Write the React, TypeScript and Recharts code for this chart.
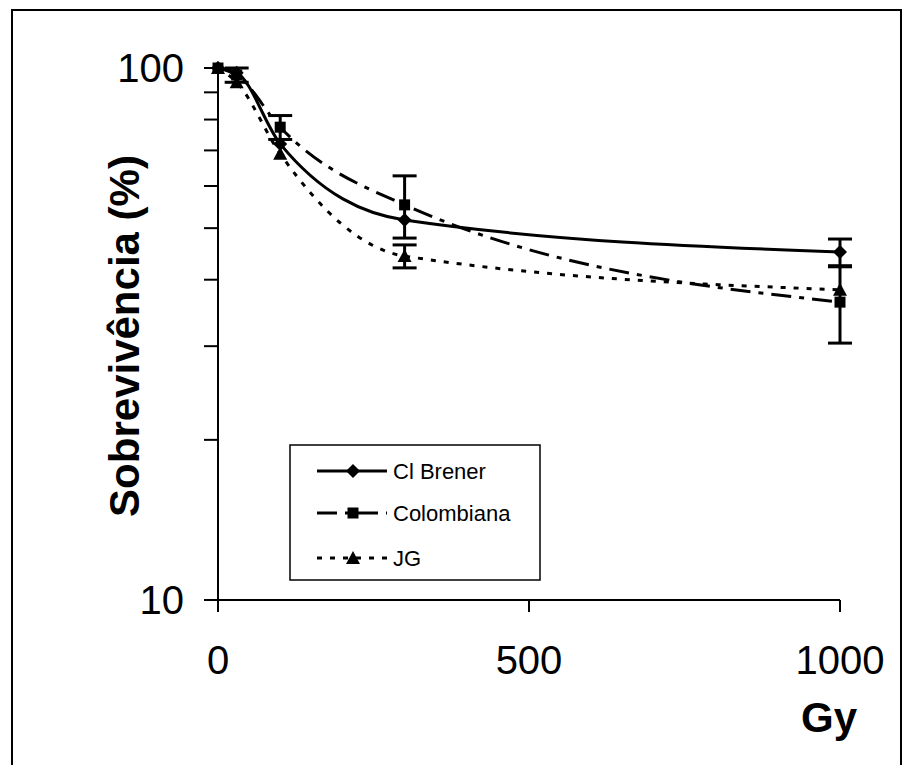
import React from 'react';
import { LineChart, Line, XAxis, YAxis, ErrorBar, Customized } from 'recharts';

const doses = [0, 30, 100, 300, 1000];
const clBrener = [100, 98, 72, 51.8, 45.1];
const clBrenerErr: (number[] | null)[] = [null, null, null, null, [2.6, 2.6]];
const colombiana = [100, 97, 77.4, 55.3, 36.3];
const colombianaErr: (number[] | null)[] = [null, [3, 3], [4, 4], [7.4, 7.4], [5.9, 6]];
const jg = [100, 94, 69, 44.3, 38.3];
const jgErr: (number[] | null)[] = [null, null, null, [2.2, 2.2], null];

const xTicks = [0, 500, 1000];
const yTicks = [10, 20, 30, 40, 50, 60, 70, 80, 90, 100];
const yLabeled = [10, 100];
const seriesNames = ['Cl Brener', 'Colombiana', 'JG'];

const data = doses.map((d, i) => ({
  x: d,
  cb: clBrener[i],
  cbErr: clBrenerErr[i],
  co: colombiana[i],
  coErr: colombianaErr[i],
  jg: jg[i],
  jgErr: jgErr[i],
}));

const FONT = 'Liberation Sans, Arial, Helvetica, sans-serif';

const markerPath = (shape: string, cx: number, cy: number) => {
  if (shape === 'diamond') return `M${cx},${cy - 7}L${cx + 7},${cy}L${cx},${cy + 7}L${cx - 7},${cy}Z`;
  if (shape === 'square') return `M${cx - 5.5},${cy - 5.5}h11v11h-11Z`;
  return `M${cx},${cy - 7}L${cx + 7},${cy + 6}L${cx - 7},${cy + 6}Z`;
};

const makeDot = (shape: string) => (props: any) => {
  const { cx, cy, index } = props;
  if (cx == null || cy == null) return <g key={`n-${shape}-${index}`} />;
  return <path key={`${shape}-${index}`} d={markerPath(shape, cx, cy)} fill="#000" stroke="none" />;
};

const series = [
  { key: 'cb', err: 'cbErr', name: seriesNames[0], dash: undefined as string | undefined, shape: 'diamond' },
  { key: 'co', err: 'coErr', name: seriesNames[1], dash: '20 8 5 8', shape: 'square' },
  { key: 'jg', err: 'jgErr', name: seriesNames[2], dash: '5 8', shape: 'triangle' },
];

const Overlay = () => {
  const rows = [463, 505, 550];
  return (
    <g>
      <rect x={4} y={2} width={889} height={820} fill="none" stroke="#000" strokeWidth={2} />
      <rect x={282} y={437} width={250} height={135} fill="#fff" stroke="#000" strokeWidth={1.5} />
      {series.map((s, i) => (
        <g key={s.key}>
          <line x1={309} x2={379} y1={rows[i]} y2={rows[i]} stroke="#000" strokeWidth={3} strokeDasharray={s.dash} />
          <path d={markerPath(s.shape, 345, rows[i])} fill="#000" />
          <text x={385} y={rows[i]} dominantBaseline="central" fontFamily={FONT} fontSize={22} fill="#000">{s.name}</text>
        </g>
      ))}
      <text x={849} y={724} textAnchor="end" fontFamily={FONT} fontWeight="bold" fontSize={42} fill="#000">Gy</text>
      <text x={131} y={328} textAnchor="middle" transform="rotate(-90, 131, 328)" fontFamily={FONT} fontWeight="bold" fontSize={42} fill="#000">Sobrevivência (%)</text>
    </g>
  );
};

export default function App() {
  return (
    <div style={{ width: 902, height: 757 }}>
      <LineChart width={902} height={757} data={data} margin={{ top: 60, right: 70, bottom: 105, left: 100 }}>
        <XAxis
          dataKey="x"
          type="number"
          domain={[0, 1000]}
          ticks={xTicks}
          height={60}
          tickSize={12}
          tickMargin={34}
          axisLine={{ stroke: '#000', strokeWidth: 2 }}
          tickLine={{ stroke: '#000', strokeWidth: 2 }}
          tick={{ fill: '#000', fontSize: 40, fontFamily: FONT }}
        />
        <YAxis
          type="number"
          scale="log"
          domain={[10, 100]}
          ticks={yTicks}
          width={110}
          tickSize={14}
          tickMargin={20}
          interval={0}
          tickFormatter={(v: number) => (yLabeled.includes(v) ? String(v) : '')}
          axisLine={{ stroke: '#000', strokeWidth: 2 }}
          tickLine={{ stroke: '#000', strokeWidth: 2 }}
          tick={{ fill: '#000', fontSize: 40, fontFamily: FONT }}
        />
        {series.map((s) => (
          <Line
            key={s.key}
            dataKey={s.key}
            name={s.name}
            type="monotone"
            stroke="#000"
            strokeWidth={3}
            strokeDasharray={s.dash}
            dot={makeDot(s.shape)}
            activeDot={false}
            isAnimationActive={false}
          >
            <ErrorBar dataKey={s.err} width={12} stroke="#000" strokeWidth={3} direction="y" />
          </Line>
        ))}
        <Customized component={Overlay} />
      </LineChart>
    </div>
  );
}
